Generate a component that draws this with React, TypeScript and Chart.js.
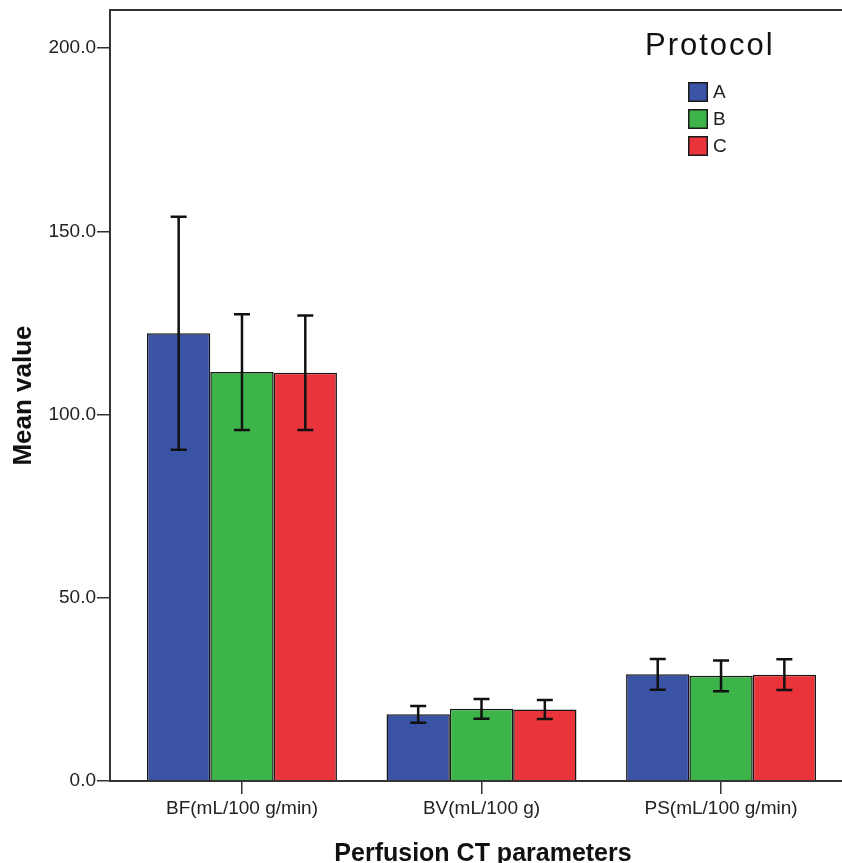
import React, { useEffect, useRef } from "react";
import { Chart, registerables } from "chart.js";

Chart.register(...registerables);

const categories = ["BF(mL/100 g/min)", "BV(mL/100 g)", "PS(mL/100 g/min)"];
const protocols = ["A", "B", "C"];
const meanA = [122.2, 18.2, 29.1];
const errA = [31.8, 2.3, 4.2];
const meanB = [111.6, 19.7, 28.7];
const errB = [15.8, 2.7, 4.2];
const meanC = [111.4, 19.5, 29.0];
const errC = [15.6, 2.6, 4.2];
const yTicks = [0, 50, 100, 150, 200];
const colors = ["#3a53a4", "#3cb44a", "#e8343a"];

const means = [meanA, meanB, meanC];
const errs = [errA, errB, errC];

const FONT = "'Liberation Sans', Arial, sans-serif";

export default function App() {
  const ref = useRef<HTMLCanvasElement>(null);

  useEffect(() => {
    document.body.style.margin = "0";
    const canvas = ref.current;
    if (!canvas) return;

    const overlay = {
      id: "overlay",
      afterDatasetsDraw(chart: any) {
        const ctx = chart.ctx;
        const yScale = chart.scales.y;
        ctx.save();
        ctx.strokeStyle = "#111";
        ctx.lineWidth = 2.5;
        means.forEach((m, di) => {
          const meta = chart.getDatasetMeta(di);
          meta.data.forEach((el: any, j: number) => {
            const x = el.x;
            const top = yScale.getPixelForValue(m[j] + errs[di][j]);
            const bot = yScale.getPixelForValue(m[j] - errs[di][j]);
            const cap = 8;
            ctx.beginPath();
            ctx.moveTo(x, top);
            ctx.lineTo(x, bot);
            ctx.moveTo(x - cap, top);
            ctx.lineTo(x + cap, top);
            ctx.moveTo(x - cap, bot);
            ctx.lineTo(x + cap, bot);
            ctx.stroke();
          });
        });
        ctx.restore();
      },
      afterDraw(chart: any) {
        const ctx = chart.ctx;
        const area = chart.chartArea;
        ctx.save();
        // top frame line
        ctx.strokeStyle = "#333";
        ctx.lineWidth = 2;
        ctx.beginPath();
        ctx.moveTo(area.left - 1, area.top);
        ctx.lineTo(area.right, area.top);
        ctx.stroke();

        // legend
        ctx.fillStyle = "#111";
        ctx.font = `31px ${FONT}`;
        try { (ctx as any).letterSpacing = "2px"; } catch (e) {}
        ctx.textAlign = "left";
        ctx.textBaseline = "alphabetic";
        ctx.fillText("Protocol", 645, 55);
        try { (ctx as any).letterSpacing = "0px"; } catch (e) {}
        protocols.forEach((p, i) => {
          const y = 82 + i * 27;
          ctx.fillStyle = colors[i];
          ctx.fillRect(688, y, 20, 20);
          ctx.strokeStyle = "#1a1a1a";
          ctx.lineWidth = 1.5;
          ctx.strokeRect(688.75, y + 0.75, 18.5, 18.5);
          ctx.fillStyle = "#222";
          ctx.font = `19px ${FONT}`;
          ctx.textBaseline = "middle";
          ctx.fillText(p, 713, y + 11);
        });

        // axis titles
        ctx.fillStyle = "#111";
        ctx.font = `bold 26px ${FONT}`;
        ctx.textAlign = "center";
        ctx.textBaseline = "middle";
        ctx.save();
        ctx.translate(24, (area.top + area.bottom) / 2);
        ctx.rotate(-Math.PI / 2);
        ctx.fillText("Mean value", 0, 0);
        ctx.restore();

        ctx.font = `bold 25px ${FONT}`;
        ctx.textBaseline = "alphabetic";
        ctx.fillText("Perfusion CT parameters", (area.left + area.right) / 2 + 7, 861);
        ctx.restore();
      },
    };

    const chart = new Chart(canvas, {
      type: "bar",
      data: {
        datasets: protocols.map((p, i) => ({
          label: p,
          data: means[i].map((v, j) => ({ x: j, y: v })),
          backgroundColor: colors[i],
          borderColor: "#161616",
          borderWidth: 1.5,
          categoryPercentage: 0.793,
          barPercentage: 1.0,
        })),
      },
      options: {
        animation: false,
        responsive: false,
        devicePixelRatio: 1,
        layout: { padding: { top: 10, right: 0, left: 0, bottom: 0 } },
        plugins: {
          legend: { display: false },
          tooltip: { enabled: false },
        },
        scales: {
          x: {
            type: "linear",
            offset: false,
            min: -0.551,
            max: 2.505,
            afterBuildTicks: (scale: any) => {
              scale.ticks = categories.map((_, i) => ({ value: i }));
            },
            afterFit: (scale: any) => {
              scale.height = 82;
              scale.paddingLeft = 0;
              scale.paddingRight = 0;
            },
            ticks: {
              callback: (v: any) => categories[Math.round(Number(v))],
              font: { family: FONT, size: 19 },
              color: "#222",
              padding: 3,
              maxRotation: 0,
              autoSkip: false,
            },
            grid: {
              offset: false,
              drawOnChartArea: false,
              drawTicks: true,
              tickLength: 13,
              color: "#333",
              lineWidth: 1.5,
            },
            border: { display: true, color: "#333", width: 2 },
          },
          y: {
            type: "linear",
            min: 0,
            max: 210.4,
            afterBuildTicks: (scale: any) => {
              scale.ticks = yTicks.map((v) => ({ value: v }));
            },
            afterFit: (scale: any) => {
              scale.width = 110;
              scale.paddingTop = 0;
              scale.paddingBottom = 0;
            },
            ticks: {
              callback: (v: any) => Number(v).toFixed(1),
              font: { family: FONT, size: 19 },
              color: "#222",
              padding: 1,
            },
            grid: {
              drawOnChartArea: false,
              drawTicks: true,
              tickLength: 13,
              color: "#333",
              lineWidth: 1.5,
            },
            border: { display: true, color: "#333", width: 2 },
          },
        },
      },
      plugins: [overlay],
    } as any);

    return () => chart.destroy();
  }, []);

  return <canvas ref={ref} width={842} height={863} style={{ display: "block" }} />;
}
